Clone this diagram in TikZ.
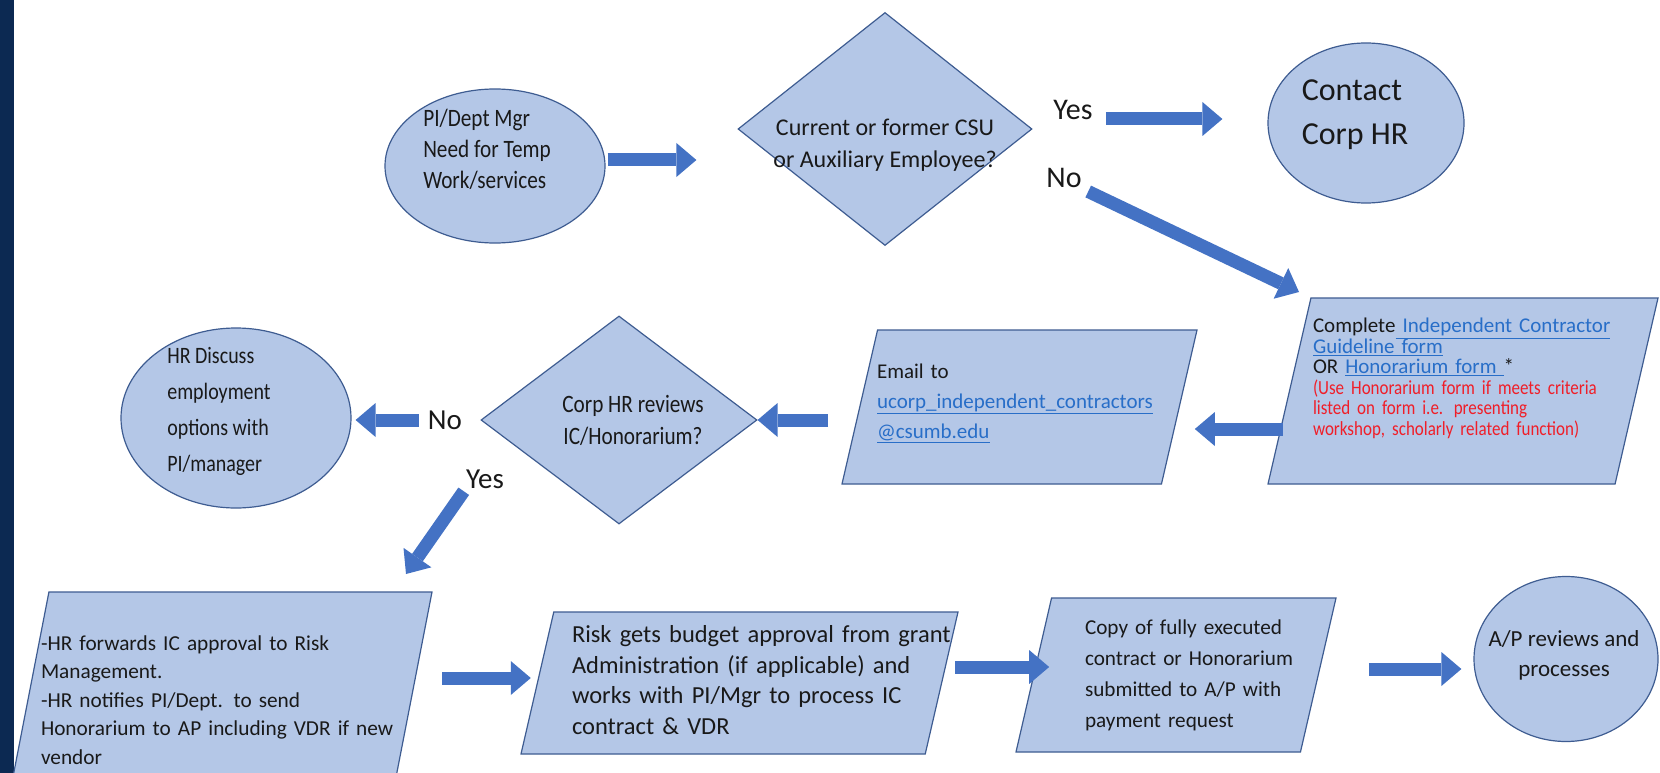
\documentclass[tikz,border=0pt]{standalone}
\usepackage{fontspec}
\setmainfont{Carlito}
\newfontfamily\narrow{Carlito}[FakeStretch=0.85]
\usetikzlibrary{shapes.geometric,arrows.meta}
\definecolor{navy}{RGB}{12,41,82}
\definecolor{boxfill}{RGB}{180,199,231}
\definecolor{boxline}{RGB}{62,92,145}
\definecolor{arrowblue}{RGB}{68,114,196}
\definecolor{linkblue}{RGB}{40,110,200}
\definecolor{notered}{RGB}{240,30,40}
\definecolor{ink}{RGB}{25,25,25}
\newcommand{\setfs}[2]{\fontsize{#1}{#2}\selectfont}
\newcommand{\lnk}[1]{\textcolor{linkblue}{\underline{#1}}}
\newcommand{\note}[1]{\textcolor{notered}{\narrow\setfs{20}{20.5}#1}}
\begin{document}
\begin{tikzpicture}[x=1pt,y=-1pt,
    oval/.style={ellipse,draw=boxline,fill=boxfill,line width=1.2pt,inner sep=0pt},
    diam/.style={diamond,draw=boxline,fill=boxfill,line width=1.2pt,inner sep=0pt},
    para/.style={trapezium,trapezium left angle=77,trapezium right angle=103,trapezium stretches body=true,
        draw=boxline,fill=boxfill,line width=1.2pt,inner xsep=0pt},
    boxtext/.style={text=ink,align=left,inner sep=0pt},
    word/.style={text=ink,inner sep=1pt},
    bigarrow/.style={draw=arrowblue,line width=13pt,-{Triangle[length=20pt,width=34pt,line width=0pt]}}]
    \useasboundingbox (0,0) rectangle (1660,773);
    \fill[white] (0,0) rectangle (1660,773);
    \fill[navy] (0,0) rectangle (14,773);

    \node[oval,minimum width=220pt,minimum height=154pt,
        label={[boxtext,font=\narrow\setfs{25}{31},xshift=-8pt,yshift=17pt]center:{PI/Dept Mgr\\Need for Temp\\Work/services}}] (need) at (495,166) {};
    \node[diam,minimum width=294pt,minimum height=233pt,
        label={[boxtext,align=center,font=\setfs{24}{32},yshift=-16pt]center:{Current or former CSU\\or Auxiliary Employee?}}] (csu) at (885,129) {};
    \node[word,font=\setfs{30}{30}] (yes1) at (1073,110) {Yes};
    \node[word,font=\setfs{30}{30}] (no1) at (1064,178) {No};
    \node[oval,minimum width=196pt,minimum height=160pt,
        label={[boxtext,font=\setfs{32}{44},xshift=-11pt,yshift=8pt]center:{Contact\\Corp HR}}] (contact) at (1366,123) {};

    \node[para,minimum width=390pt,inner ysep=93pt,
        label={[boxtext,text width=345pt,font=\setfs{21}{20.5},xshift=22.5pt,yshift=12.5pt]center:{Complete\lnk{ Independent Contractor}\\
        \lnk{Guideline form}\\
        OR \lnk{Honorarium form }*\\
        \note{(Use Honorarium form if meets criteria}\\
        \note{listed on form i.e. presenting}\\
        \note{workshop, scholarly related function)}}}] (guide) at (1463,391) {};
    \node[para,minimum width=355pt,inner ysep=77pt,
        label={[boxtext,text width=290pt,font=\setfs{21}{30},xshift=2.5pt,yshift=4pt]center:{Email to\\
        \lnk{ucorp\_independent\_contractors}\\
        \lnk{@csumb.edu}}}] (email) at (1019.5,407) {};
    \node[diam,minimum width=276pt,minimum height=208pt,
        label={[boxtext,align=center,font=\narrow\setfs{25}{32},xshift=14pt]center:{Corp HR reviews\\IC/Honorarium?}}] (review) at (619,420) {};
    \node[word,font=\setfs{29}{29}] (no2) at (445,420) {No};
    \node[word,font=\setfs{29}{29}] (yes2) at (485,479) {Yes};
    \node[oval,minimum width=230pt,minimum height=180pt,
        label={[boxtext,font=\narrow\setfs{23.5}{36},xshift=-17pt,yshift=7pt]center:{HR Discuss\\employment\\options with\\PI/manager}}] (discuss) at (236,418) {};

    \node[para,trapezium left angle=79,trapezium right angle=101,minimum width=420pt,inner ysep=95pt,
        label={[boxtext,text width=390pt,font=\setfs{21.3}{28.5},xshift=14pt,yshift=-13pt]center:{-HR forwards IC approval to Risk\\
        Management.\\
        -HR notifies PI/Dept. to send\\
        Honorarium to AP including VDR if new\\
        vendor}}] (forward) at (222,687) {};
    \node[para,minimum width=437pt,inner ysep=71pt,
        label={[boxtext,text width=390pt,font=\setfs{24.5}{30.5},xshift=27.5pt,yshift=3pt]center:{Risk gets budget approval from grant\\
        Administration (if applicable) and\\
        works with PI/Mgr to process IC\\
        contract \& VDR}}] (risk) at (739.5,683) {};
    \node[para,minimum width=320pt,inner ysep=77pt,
        label={[boxtext,text width=260pt,font=\setfs{21.2}{31},xshift=39pt]center:{Copy of fully executed\\
        contract or Honorarium\\
        submitted to A/P with\\
        payment request}}] (copy) at (1176,675) {};
    \node[oval,minimum width=184pt,minimum height=165pt,
        label={[boxtext,align=center,font=\setfs{23}{30},xshift=-2pt,yshift=4pt]center:{A/P reviews and\\processes}}] (ap) at (1566,659) {};

    \coordinate (guidein) at (1299,292);
    \coordinate (forwardin) at (406,574);

    \draw[bigarrow,shorten <=2pt,shorten >=41pt] ([yshift=6pt]need.east) -- ([yshift=6pt]need.east -| csu.west);
    \draw[bigarrow,shorten <=12pt,shorten >=45pt] ([yshift=-9pt]yes1.east) -- ([yshift=-9pt]yes1.east -| contact.west);
    \draw[bigarrow,shorten <=6pt] (no1.south east) -- (guidein);
    \draw[bigarrow,shorten <=6pt,shorten >=15pt] ([yshift=-38pt]guide.west) -- ([yshift=-38pt]guide.west -| email.east);
    \draw[bigarrow,shorten <=31pt] ([yshift=-13pt]email.west) -- (review.east);
    \draw[bigarrow,shorten <=8pt,shorten >=4pt] (no2.west) -- (no2.west -| discuss.east);
    \draw[bigarrow,shorten <=2pt] (yes2.south west) -- (forwardin);
    \draw[bigarrow,shorten <=28pt,shorten >=6pt] ([yshift=9pt]forward.east) -- ([yshift=9pt]forward.east -| risk.west);
    \draw[bigarrow,shorten <=13pt,shorten >=-16pt] ([yshift=16pt]risk.east) -- ([yshift=16pt]risk.east -| copy.west);
    \draw[bigarrow,shorten <=50pt,shorten >=12pt] ([yshift=6pt]copy.east) -- ([yshift=6pt]copy.east -| ap.west);
\end{tikzpicture}
\end{document}
